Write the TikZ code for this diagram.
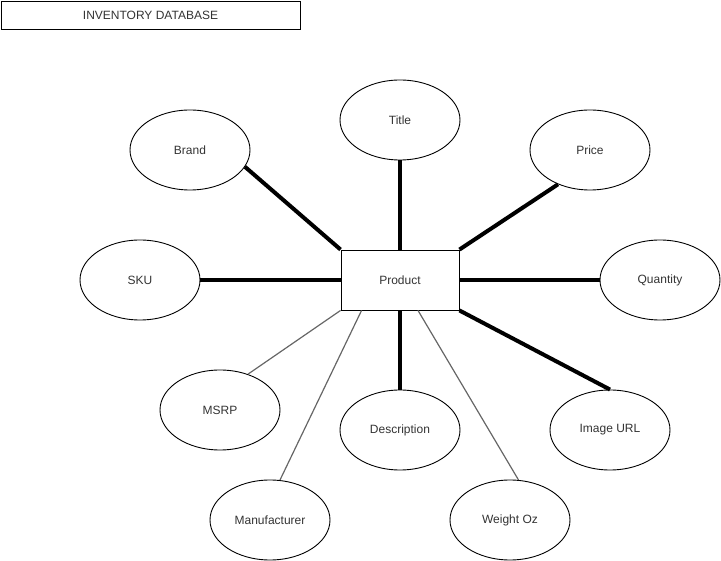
\documentclass[tikz,border=0pt]{standalone}
\usepackage{fontspec}
\setmainfont{Liberation Sans}
\usetikzlibrary{shapes.geometric}
\definecolor{txt}{HTML}{333333}
\definecolor{thinline}{HTML}{666666}
\begin{document}
\begin{tikzpicture}[x=1pt,y=-1pt,
  attr/.style={ellipse,draw=black,line width=0.9pt,minimum width=120pt,minimum height=80pt,inner sep=0pt,
    text=txt,font=\fontsize{12}{14}\selectfont},
  entity/.style={rectangle,draw=black,line width=0.9pt,minimum width=118pt,minimum height=60pt,inner sep=0pt,
    text=txt,font=\fontsize{12}{14}\selectfont},
  heavy/.style={line width=4pt,black},
  light/.style={line width=1.2pt,thinline}]
  \useasboundingbox (0,0) rectangle (721,561);

  % heading box
  \node[rectangle,draw=black,line width=0.9pt,minimum width=299pt,minimum height=28pt,inner sep=0pt,
    text=txt,font=\fontsize{12}{14}\selectfont] (heading) at (150.5,15) {INVENTORY DATABASE};

  % entity and its attributes
  \node[entity] (prod) at (400,280) {Product};
  \node[attr] (title) at (400,120) {Title};
  \node[attr] (brand) at (190,150) {Brand};
  \node[attr] (price) at (590,150) {Price};
  \node[attr] (sku) at (140,280) {SKU};
  \node[attr] (qty) at (660,280) {Quantity};
  \node[attr] (msrp) at (220,410) {MSRP};
  \node[attr] (desc) at (400,430) {Description};
  \node[attr] (img) at (610,430) {Image URL};
  \node[attr] (mfg) at (270,520) {Manufacturer};
  \node[attr] (wgt) at (510,520) {Weight Oz};

  \coordinate (mfgport) at ([xshift=21pt]prod.south west);
  \coordinate (wgtport) at ([xshift=18pt]prod.south);

  % connectors
  \draw[heavy] (prod.north west) -- (brand.343);
  \draw[heavy] (prod.north) -- (title.south);
  \draw[heavy] (prod.north east) -- (price.227);
  \draw[heavy] (prod.west) -- (sku.east);
  \draw[heavy] (prod.east) -- (qty.west);
  \draw[heavy] (prod.south east) -- (img.north);
  \draw[heavy] (prod.south) -- (desc.north);
  \draw[light] (prod.south west) -- (msrp.52);
  \draw[light] (mfgport) -- (mfg.76);
  \draw[light] (wgtport) -- (wgt.78);
\end{tikzpicture}
\end{document}
